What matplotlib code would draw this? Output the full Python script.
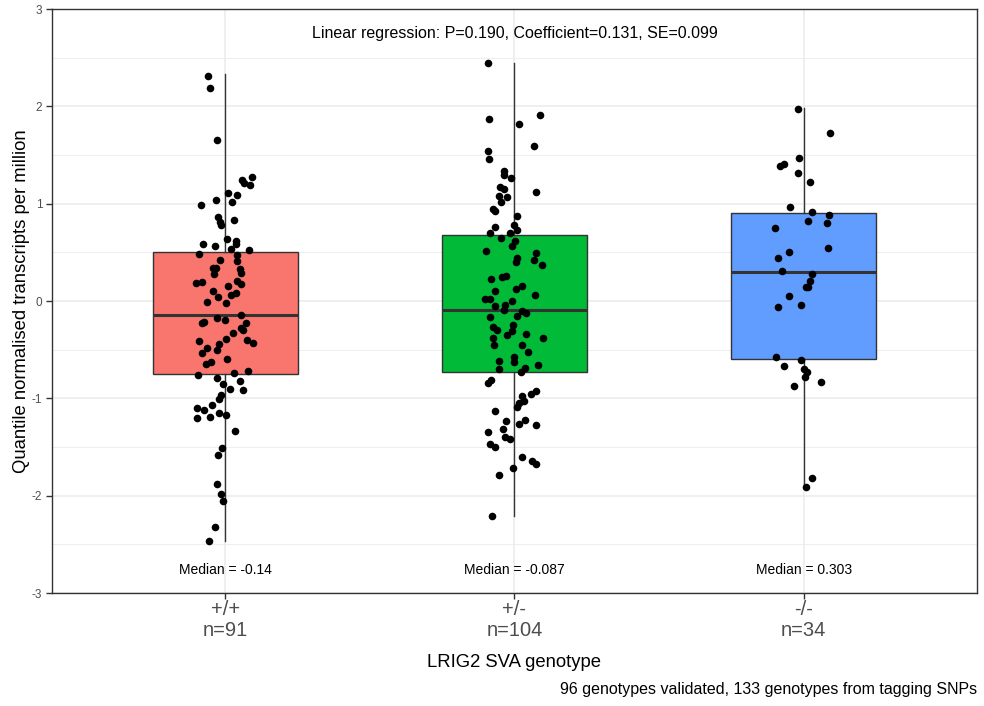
import matplotlib
matplotlib.use("Agg")
import numpy as np
from matplotlib import pyplot as plt

plt.rcParams['font.family'] = ['Liberation Sans', 'DejaVu Sans']
plt.rcParams['axes.unicode_minus'] = False

genotypes = ["+/+", "+/-", "-/-"]
counts = [91, 104, 34]
colors = ["#F8766D", "#00BA38", "#619CFF"]
medians = [-0.14, -0.087, 0.303]
median_labels = ["Median = -0.14", "Median = -0.087", "Median = 0.303"]
q1 = [-0.75, -0.73, -0.60]
q3 = [0.50, 0.68, 0.905]
whisk_lo = [-2.47, -2.21, -1.92]
whisk_hi = [2.33, 2.45, 1.98]

# expression values, with their jitter offsets
vals_hom = [2.31, 2.19, 1.66, 1.24, 1.28, 1.21, 1.19, 1.11, 1.09, 1.04, 0.99, 1.02, 0.86, 0.78,
            0.81, 0.83, 0.59, 0.57, 0.64, 0.62, 0.59, 0.53, 0.54, 0.48, 0.47, 0.42, 0.41, 0.34,
            0.34, 0.33, 0.29, 0.28, 0.19, 0.20, 0.21, 0.18, 0.16, 0.10, 0.04, 0.08, 0.06, -0.01,
            -0.02, -0.22, -0.21, -0.17, -0.19, -0.14, -0.23, -0.30, -0.28, -0.33, -0.39, -0.40,
            -0.43, -0.41, -0.44, -0.48, -0.50, -0.53, -0.60, -0.63, -0.65, -0.76, -0.74, -0.72,
            -0.79, -0.82, -0.85, -0.90, -0.91, -0.96, -1.01, -1.07, -1.10, -1.12, -1.20, -1.19,
            -1.15, -1.17, -1.33, -1.51, -1.58, -1.88, -1.98, -2.05, -2.32, -2.47]
jit_hom = [-0.061, -0.053, -0.030, 0.056, 0.091, 0.066, 0.085, 0.008, 0.040, -0.032, -0.084,
           0.023, -0.025, -0.015, -0.020, 0.031, -0.076, -0.036, 0.007, 0.036, 0.037, 0.081,
           0.018, -0.093, 0.040, -0.020, 0.040, -0.042, -0.032, 0.051, 0.054, -0.038, -0.101,
           -0.082, 0.039, 0.053, 0.008, -0.044, -0.027, 0.036, 0.020, -0.062, 0.001, -0.082,
           -0.073, -0.030, -0.002, 0.054, 0.070, 0.062, 0.055, 0.028, 0.001, 0.076, 0.097,
           -0.093, -0.022, -0.065, -0.028, -0.082, 0.007, -0.049, -0.068, -0.096, 0.029, 0.077,
           -0.028, 0.049, -0.010, 0.016, 0.060, -0.015, -0.023, -0.047, -0.097, -0.073, -0.099,
           -0.054, -0.022, 0.003, 0.034, -0.011, -0.024, -0.030, -0.014, -0.008, -0.035, -0.058]

vals_het = [2.45, 1.87, 1.91, 1.82, 1.59, 1.54, 1.46, 1.34, 1.30, 1.26, 1.17, 1.15, 1.12, 1.08,
            1.07, 1.02, 0.95, 0.93, 0.87, 0.76, 0.78, 0.73, 0.70, 0.70, 0.65, 0.62, 0.57, 0.51,
            0.49, 0.44, 0.42, 0.40, 0.37, 0.23, 0.25, 0.26, 0.16, 0.12, 0.10, 0.06, 0.02, 0.02,
            0.00, -0.05, -0.04, -0.09, -0.10, -0.12, -0.15, -0.16, -0.25, -0.27, -0.30, -0.31,
            -0.35, -0.34, -0.38, -0.38, -0.45, -0.45, -0.52, -0.57, -0.63, -0.62, -0.69, -0.66,
            -0.70, -0.73, -0.81, -0.84, -0.92, -0.95, -0.98, -1.03, -1.05, -1.09, -1.13, -1.22,
            -1.23, -1.26, -1.27, -1.31, -1.35, -1.40, -1.42, -1.47, -1.50, -1.60, -1.64, -1.67,
            -1.71, -1.79, -2.21]
jit_het = [-0.090, -0.088, 0.087, 0.015, 0.066, -0.092, -0.087, -0.036, -0.037, -0.011, -0.049,
           -0.037, 0.073, -0.055, -0.027, -0.046, -0.076, -0.069, 0.010, -0.066, 0.000, 0.009,
           -0.084, -0.015, -0.046, 0.002, -0.009, -0.098, 0.073, 0.008, 0.066, 0.004, 0.094,
           -0.081, -0.044, -0.028, 0.027, 0.006, -0.069, 0.072, -0.101, -0.083, -0.007, -0.067,
           -0.034, -0.036, 0.025, 0.040, 0.008, -0.084, -0.004, -0.073, -0.061, -0.009, -0.027,
           0.040, 0.098, -0.073, -0.070, 0.025, 0.046, -0.001, 0.000, -0.052, 0.035, 0.081,
           -0.052, 0.023, -0.081, -0.093, 0.073, 0.058, 0.025, 0.032, 0.014, 0.010, -0.069,
           0.038, -0.028, 0.014, 0.073, -0.040, -0.093, -0.032, -0.014, -0.083, -0.069, 0.027,
           0.060, 0.073, -0.004, -0.052, -0.077]

vals_del = [1.97, 1.73, 1.47, 1.39, 1.41, 1.32, 1.22, 0.97, 0.92, 0.88, 0.82, 0.80, 0.75, 0.55,
            0.50, 0.44, 0.31, 0.28, 0.21, 0.15, 0.14, 0.05, -0.04, -0.06, -0.57, -0.61, -0.67,
            -0.70, -0.73, -0.78, -0.83, -0.87, -1.82, -1.91]
jit_del = [-0.018, 0.090, -0.015, -0.081, -0.066, -0.018, 0.023, -0.048, 0.030, 0.087, 0.016,
           0.081, -0.099, 0.084, -0.049, -0.089, -0.073, 0.029, 0.023, 0.017, 0.008, -0.052,
           -0.010, -0.089, -0.094, -0.009, -0.068, 0.000, 0.011, 0.006, 0.060, -0.034, 0.030,
           0.009]

values = [vals_hom, vals_het, vals_del]
jitters = [jit_hom, jit_het, jit_del]

fig = plt.figure(figsize=(9.84, 7.06), dpi=100)
ax = fig.add_axes([0.0528, 0.160, 0.9401, 0.827])

pos = [1, 2, 3]
stats = []
for i in range(3):
    stats.append(dict(med=medians[i], q1=q1[i], q3=q3[i],
                      whislo=whisk_lo[i], whishi=whisk_hi[i], fliers=[]))

ax.set_axisbelow(True)
ax.grid(True, which='major', color='#EBEBEB', linewidth=1.1, zorder=0)
ax.grid(True, which='minor', axis='y', color='#EBEBEB', linewidth=0.6, zorder=0)

bp = ax.bxp(stats, positions=pos, widths=0.5, patch_artist=True,
            showfliers=False, showcaps=False,
            boxprops=dict(edgecolor='#333333', linewidth=1.0),
            whiskerprops=dict(color='#333333', linewidth=1.0),
            medianprops=dict(color='#333333', linewidth=2.2))
for patch, c in zip(bp['boxes'], colors):
    patch.set_facecolor(c)

for i in range(3):
    x = np.array(jitters[i]) + pos[i]
    ax.scatter(x, values[i], s=30, color='black', zorder=5, linewidths=0)
    ax.text(pos[i], -2.76, median_labels[i], ha='center', va='center', fontsize=10)

ax.text(2, 2.75, "Linear regression: P=0.190, Coefficient=0.131, SE=0.099",
        ha='center', va='center', fontsize=11.5)

ax.set_xlim(0.4, 3.6)
ax.set_ylim(-3, 3)
ax.set_yticks([-3, -2, -1, 0, 1, 2, 3])
ax.set_yticks([-2.5, -1.5, -0.5, 0.5, 1.5, 2.5], minor=True)
ax.set_xticks(pos)
ax.set_xticklabels(["%s\nn=%d" % (g, n) for g, n in zip(genotypes, counts)],
                   fontsize=14.5, color='#4D4D4D', linespacing=1.15)
ax.tick_params(axis='y', which='minor', length=0)
ax.tick_params(axis='y', which='major', labelsize=8.5, labelcolor='#4D4D4D',
               color='#333333', length=4, width=1, pad=3)
ax.tick_params(axis='x', which='major', color='#333333', length=4, width=1, pad=1)
for s in ax.spines.values():
    s.set_color('#333333')
    s.set_linewidth(1.0)

ax.set_ylabel("Quantile normalised transcripts per million", fontsize=13.3)
ax.yaxis.set_label_coords(-0.024, 0.5)
ax.set_xlabel("LRIG2 SVA genotype", fontsize=13.3)
ax.xaxis.set_label_coords(0.5, -0.104)
fig.text(0.993, 0.023, "96 genotypes validated, 133 genotypes from tagging SNPs",
         ha='right', va='center', fontsize=11.5)

fig.savefig("out.png", dpi=100)
